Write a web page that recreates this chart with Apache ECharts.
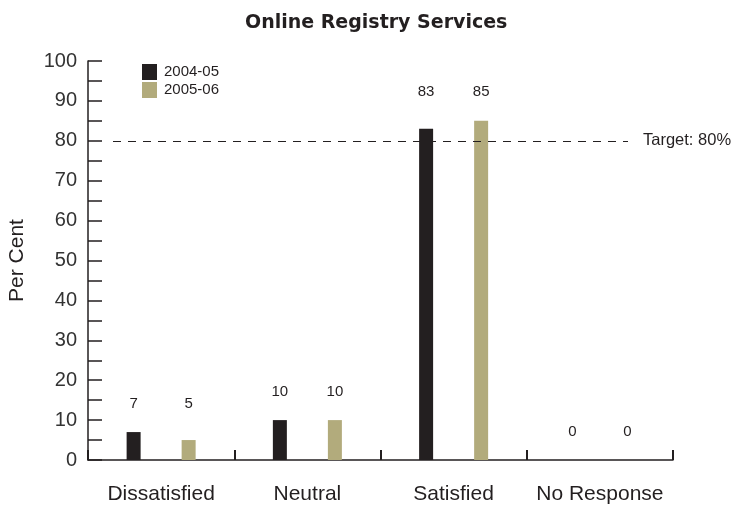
<!DOCTYPE html>
<html>
<head>
<meta charset="utf-8">
<script src="https://cdn.jsdelivr.net/npm/echarts@6/dist/echarts.min.js"></script>
<style>
  html, body { margin: 0; padding: 0; background: #ffffff; }
  #chart { width: 733px; height: 510px; }
</style>
</head>
<body>
<div id="chart"></div>
<script>
var categories = ['Dissatisfied', 'Neutral', 'Satisfied', 'No Response'];
var seriesNames = ['2004-05', '2005-06'];
var values2004 = [7, 10, 83, 0];
var values2005 = [5, 10, 85, 0];
var targetValue = 80;
var targetLabel = 'Target: 80%';
var yTicks = [0, 10, 20, 30, 40, 50, 60, 70, 80, 90, 100];

var FONT = '"Liberation Sans", Arial, sans-serif';
var TITLE_FONT = '"DejaVu Sans", sans-serif';
var TEXT = '#231f20';
var gridTop = 61, gridBottom = 50;
var plotH = 510 - gridTop - gridBottom;
var pxPerUnit = plotH / 100;

function withLabels(vals) {
  return vals.map(function (v, i) {
    var m = Math.max(values2004[i], values2005[i]);
    return { value: v, label: { distance: 21 + (m - v) * pxPerUnit } };
  });
}

var chart = echarts.init(document.getElementById('chart'), null, { renderer: 'canvas' });
chart.setOption({
  animation: false,
  backgroundColor: '#ffffff',
  textStyle: { fontFamily: FONT, color: TEXT },
  title: {
    text: 'Online Registry Services',
    left: 245, top: 14, padding: 0,
    textStyle: { fontFamily: TITLE_FONT, fontWeight: 'bold', fontSize: 19, color: TEXT }
  },
  legend: {
    orient: 'vertical',
    left: 142, top: 64, padding: 0,
    itemWidth: 15, itemHeight: 16, itemGap: 2,
    icon: 'rect',
    textStyle: { fontFamily: FONT, fontSize: 15, color: TEXT, padding: [0, 0, 0, 2] },
    data: seriesNames
  },
  grid: {
    left: 88, right: 60, top: gridTop, bottom: gridBottom,
    containLabel: false, outerBoundsMode: 'none'
  },
  xAxis: {
    type: 'category',
    data: categories,
    boundaryGap: true,
    axisLine: { lineStyle: { color: TEXT, width: 1.5 } },
    axisTick: { show: true, inside: true, interval: 0, length: 10, lineStyle: { color: TEXT, width: 2 } },
    axisLabel: { interval: 0, fontFamily: FONT, fontSize: 21, color: TEXT, margin: 24 }
  },
  yAxis: {
    type: 'value',
    min: 0, max: 100, interval: 5,
    name: 'Per Cent',
    nameLocation: 'middle',
    nameGap: 60,
    nameTextStyle: { fontFamily: FONT, fontSize: 21, color: TEXT },
    axisLine: { show: true, lineStyle: { color: TEXT, width: 1.5 } },
    axisTick: { show: true, inside: true, length: 14, lineStyle: { color: TEXT, width: 1.5 } },
    axisLabel: {
      fontFamily: FONT, fontSize: 20, color: '#333333', margin: 11,
      formatter: function (v) { return yTicks.indexOf(v) >= 0 ? String(v) : ''; }
    },
    splitLine: { show: false }
  },
  series: [
    {
      name: seriesNames[0],
      type: 'bar',
      data: withLabels(values2004),
      barWidth: 14,
      barGap: '293%',
      itemStyle: { color: '#231f20' },
      label: { show: true, position: 'top', fontFamily: FONT, fontSize: 15, color: TEXT },
      markLine: {
        silent: true,
        symbol: ['none', 'none'],
        lineStyle: { color: TEXT, type: [8, 7], width: 1 },
        label: {
          show: true, position: 'end', distance: 15,
          formatter: targetLabel,
          fontFamily: FONT, fontSize: 16.5, color: TEXT
        },
        data: [[
          { coord: [0, targetValue], x: 113 },
          { coord: [3, targetValue], x: 628 }
        ]]
      }
    },
    {
      name: seriesNames[1],
      type: 'bar',
      data: withLabels(values2005),
      barWidth: 14,
      barGap: '293%',
      itemStyle: { color: '#b2ab7c' },
      label: { show: true, position: 'top', fontFamily: FONT, fontSize: 15, color: TEXT }
    }
  ]
});
</script>
</body>
</html>
